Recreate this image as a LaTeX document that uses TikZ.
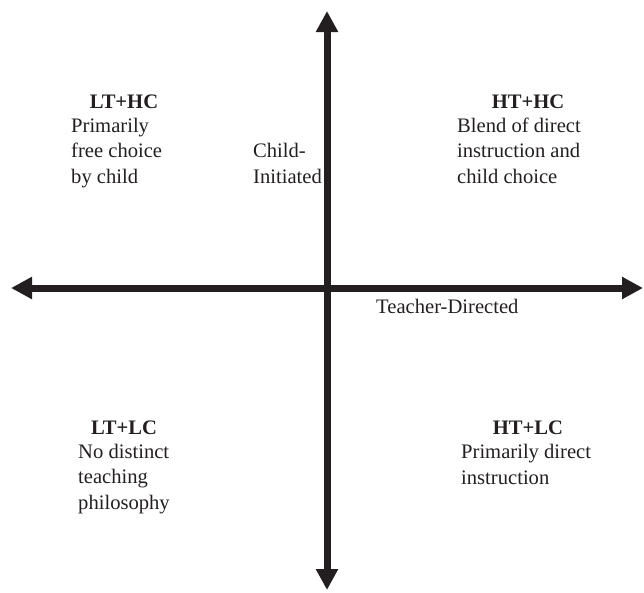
\documentclass[tikz,border=0pt]{standalone}
\usepackage{fontspec}
\setmainfont{Liberation Serif}
\usepackage{xcolor}
\definecolor{axisink}{RGB}{35, 31, 32}
\definecolor{textink}{RGB}{35, 31, 32}
\usetikzlibrary{arrows.meta}

\tikzset{
  axis/.style={line width=7pt, axisink,
    {Triangle[length=21pt, width=21pt]}-{Triangle[length=21pt, width=21pt]}},
  lbl/.style={inner sep=0pt, anchor=base west, align=left, textink,
    font=\fontsize{20.6}{25.2}\selectfont},
  quadtitle/.style={inner sep=0pt, anchor=base, textink,
    font=\fontsize{20.6}{25}\selectfont\bfseries}
}

\begin{document}
\begin{tikzpicture}[x=1pt, y=-1pt]
\useasboundingbox (0,0) rectangle (644,592);

% === Ejes ===
\coordinate (west) at (11, 288);
\coordinate (east) at (643, 288);
\coordinate (north) at (327, 11);
\coordinate (south) at (327, 590);

\draw[axis] (west) -- (east);
\draw[axis] (north) -- (south);

% Etiquetas de los ejes (base = ultima linea)
\node[lbl] (childinit) at (253, 183) {Child-\\Initiated};
\node[lbl] (teachdir) at (376, 313) {Teacher-Directed};

% === Cuadrantes superiores ===
\node[quadtitle] (lthc) at (124, 108) {LT+HC};
\node[lbl] (lthcdesc) at (71, 183) {Primarily\\free choice\\by child};

\node[quadtitle] (hthc) at (528, 108) {HT+HC};
\node[lbl] (hthcdesc) at (457, 183) {Blend of direct\\instruction and\\child choice};

% === Cuadrantes inferiores ===
\node[quadtitle] (ltlc) at (124, 434) {LT+LC};
\node[lbl] (ltlcdesc) at (78, 509) {No distinct\\teaching\\philosophy};

\node[quadtitle] (htlc) at (528, 434) {HT+LC};
\node[lbl] (htlcdesc) at (461, 484) {Primarily direct\\instruction};

\end{tikzpicture}
\end{document}
